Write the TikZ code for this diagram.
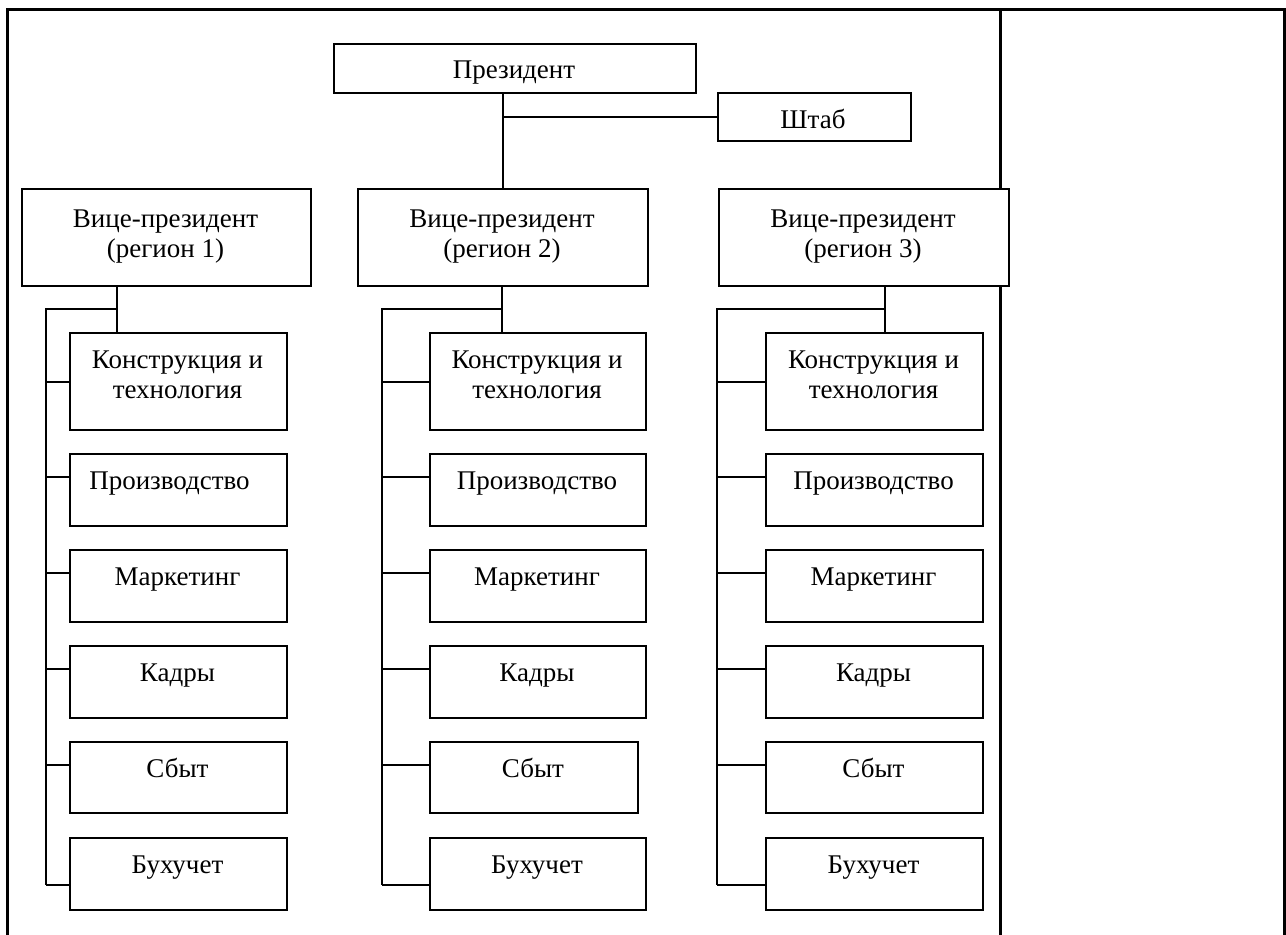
\documentclass[tikz,border=0pt]{standalone}
\usepackage{fontspec}
\setmainfont{Liberation Serif}
\newcommand\twoln[2]{\begin{tabular}[t]{@{}c@{}}#1\\#2\end{tabular}}
\tikzset{
  orgbox/.style={draw, fill=white, line width=2pt, inner sep=0pt, anchor=north west},
  lbl/.style={anchor=base, inner sep=0pt, font=\fontsize{27}{30}\selectfont},
  conn/.style={line width=2pt},
  tableline/.style={line width=3pt}
}
\newcommand\obox[5]{\node[orgbox, minimum width={#4pt-#2pt}, minimum height={#5pt-#3pt}] (#1) at (#2,#3) {};}
\begin{document}
\begin{tikzpicture}[x=1pt,y=-1pt]
\useasboundingbox (0,0) rectangle (1286,935);
% table frame
\draw[tableline] (7,935) -- (7,9) -- (1284,9) -- (1284,935);
\draw[tableline] (1000,9) -- (1000,935);

% top boxes
\obox{pres}{333}{43}{695}{92}
\obox{shtab}{717}{92}{910}{140}
\obox{vp1}{21}{188}{310}{285}
\obox{vp2}{357}{188}{647}{285}
\obox{vp3}{718}{188}{1008}{285}

\node[lbl] (tpres) at (514,78) {Президент};
\node[lbl] (tshtab) at (813,128) {Штаб};
\node[lbl] (tvp1) at (165.5,227) {\twoln{Вице-президент}{(регион 1)}};
\node[lbl] (tvp2) at (502,227) {\twoln{Вице-президент}{(регион 2)}};
\node[lbl] (tvp3) at (863,227) {\twoln{Вице-президент}{(регион 3)}};

\draw[conn] (pres.south -| vp2.north) -- (vp2.north);
\draw[conn] (shtab.west -| vp2.north) -- (shtab.west);

\foreach \c/\xa/\xb/\xs/\xl/\xj/\xt in {1/69/286/286/46/117/-8, 2/429/645/637/382/502/0, 3/765/982/982/717/885/0} {
  \obox{c\c a}{\xa}{332}{\xb}{429}
  \obox{c\c b}{\xa}{453}{\xb}{525}
  \obox{c\c c}{\xa}{549}{\xb}{621}
  \obox{c\c d}{\xa}{645}{\xb}{717}
  \obox{c\c e}{\xa}{741}{\xs}{812}
  \obox{c\c f}{\xa}{837}{\xb}{909}
  \node[lbl] (tc\c a) at ({(\xa+\xb)/2},368) {\twoln{Конструкция и}{технология}};
  \node[lbl] (tc\c b) at ({(\xa+\xb)/2+\xt},489) {Производство};
  \node[lbl] (tc\c c) at ({(\xa+\xb)/2},585) {Маркетинг};
  \node[lbl] (tc\c d) at ({(\xa+\xb)/2},681) {Кадры};
  \node[lbl] (tc\c e) at ({(\xa+\xs)/2},777) {Сбыт};
  \node[lbl] (tc\c f) at ({(\xa+\xb)/2},873) {Бухучет};
  \coordinate (j\c) at (\xj,309);
  \coordinate (lt\c) at (\xl,309);
  \coordinate (lb\c) at (\xl,885);
  \coordinate (pb\c) at ([yshift=-24pt]c\c b.north west);
  \coordinate (pc\c) at ([yshift=-24pt]c\c c.north west);
  \coordinate (pd\c) at ([yshift=-24pt]c\c d.north west);
  \coordinate (pe\c) at ([yshift=-24pt]c\c e.north west);
  \draw[conn] (vp\c.south -| j\c) -- (c\c a.north -| j\c);
  \draw[conn] (j\c) -- (lt\c) -- (lb\c);
  \draw[conn] (c\c a.west -| lt\c) -- (c\c a.west);
  \draw[conn] (pb\c -| lt\c) -- (pb\c);
  \draw[conn] (pc\c -| lt\c) -- (pc\c);
  \draw[conn] (pd\c -| lt\c) -- (pd\c);
  \draw[conn] (pe\c -| lt\c) -- (pe\c);
  \draw[conn] (lb\c) -- (lb\c -| c\c f.west);
}
\end{tikzpicture}
\end{document}
